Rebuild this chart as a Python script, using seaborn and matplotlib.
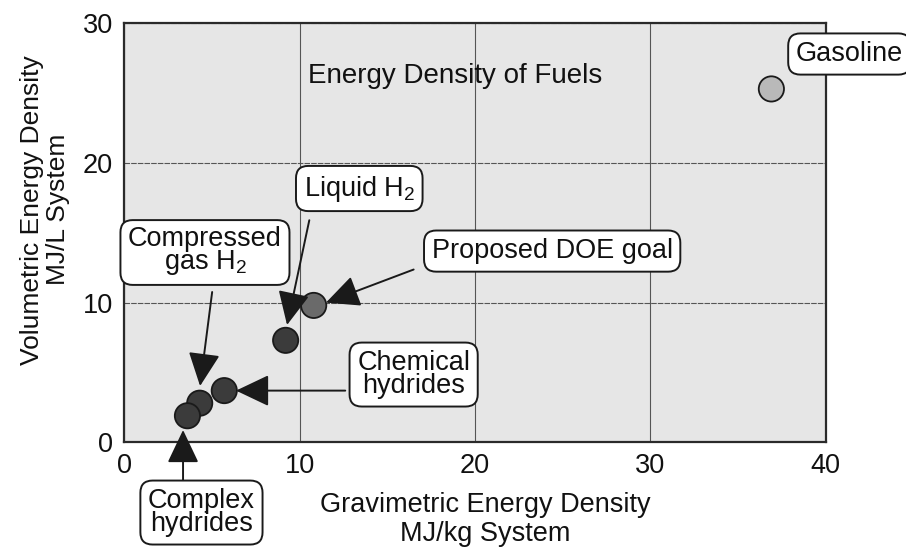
import pandas as pd
import numpy as np
import seaborn as sns
from matplotlib import pyplot as plt

# values (MJ/kg system, MJ/L system)
fuels = ["Compressed gas H2", "Chemical hydrides", "Complex hydrides",
         "Liquid H2", "Proposed DOE goal", "Gasoline"]
grav = [4.3, 5.7, 3.6, 9.2, 10.8, 36.9]
vol = [2.8, 3.7, 1.9, 7.3, 9.8, 25.3]
fill = ["#3b3b3b", "#3b3b3b", "#3b3b3b", "#3b3b3b", "#6a6a6a", "#b9b9b9"]

x_ticks = [0, 10, 20, 30, 40]
y_ticks = [0, 10, 20, 30]

sns.set_theme(style="ticks")
plt.rcParams['font.family'] = ['Liberation Sans', 'DejaVu Sans']
plt.rcParams['mathtext.default'] = 'regular'

df = pd.DataFrame({'fuel': fuels, 'grav': grav, 'vol': vol})

fig = plt.figure(figsize=(9.06, 5.48), dpi=100)
ax = fig.add_axes([0.1372, 0.1929, 0.7742, 0.7646])
ax.set_facecolor('#e6e6e6')

sns.scatterplot(data=df, x='grav', y='vol', hue='fuel', palette=dict(zip(fuels, fill)),
                s=330, edgecolor='#1a1a1a', linewidth=1.3, legend=False, zorder=3, ax=ax)

ax.set_xlim(0, 40)
ax.set_ylim(0, 30)
ax.set_xticks(x_ticks)
ax.set_yticks(y_ticks)
ax.tick_params(length=0, labelsize=19.5, colors='#111111')
ax.tick_params(axis='x', pad=8)
ax.tick_params(axis='y', pad=8)
ax.xaxis.grid(True, color='#555555', lw=0.8)
ax.yaxis.grid(True, color='#555555', lw=0.8, linestyle=(0, (5, 1)))
ax.set_axisbelow(True)
for sp in ax.spines.values():
    sp.set_linewidth(1.6)
    sp.set_color('#2a2a2a')

ax.set_xlabel('Gravimetric Energy Density\nMJ/kg System', fontsize=19.5, linespacing=1.15,
              color='#111111')
ax.set_ylabel('Volumetric Energy Density\nMJ/L System', fontsize=19, linespacing=1.1,
              color='#111111')
ax.xaxis.set_label_coords(0.514, -0.118)
ax.yaxis.set_label_coords(-0.078, 0.555)

ax.text(18.85, 26.2, 'Energy Density of Fuels', ha='center', va='center', fontsize=20,
        color='#111111')

box = dict(boxstyle='round,pad=0.28,rounding_size=0.45', fc='white', ec='#1a1a1a', lw=1.4)
labels = [
    ('Gasoline', 41.35, 27.8),
    ('Liquid H$_2$', 13.4, 18.17),
    ('Compressed\ngas H$_2$', 4.6, 13.66),
    ('Proposed DOE goal', 24.4, 13.69),
    ('Chemical\nhydrides', 16.5, 4.85),
    ('Complex\nhydrides', 4.4, -5.03),
]
for txt, lx, ly in labels:
    ax.text(lx, ly, txt, ha='center', va='center', fontsize=19.5, linespacing=0.84,
            bbox=box, color='#111111', zorder=5, clip_on=False)

# arrows: (start, tip)
arrows = [
    ((10.55, 15.9), (9.28, 8.4)),
    ((5.01, 10.76), (4.32, 4.03)),
    ((16.5, 12.37), (11.5, 10.0)),
    ((12.6, 3.7), (6.37, 3.7)),
    ((3.35, -2.85), (3.35, 0.88)),
]
for start, tip in arrows:
    ax.annotate('', xy=tip, xytext=start, annotation_clip=False,
                arrowprops=dict(arrowstyle='-|>,head_length=0.8,head_width=0.38',
                                mutation_scale=26, color='#1a1a1a', lw=1.4,
                                shrinkA=0, shrinkB=0), zorder=4)

plt.savefig('out.png', dpi=100)
